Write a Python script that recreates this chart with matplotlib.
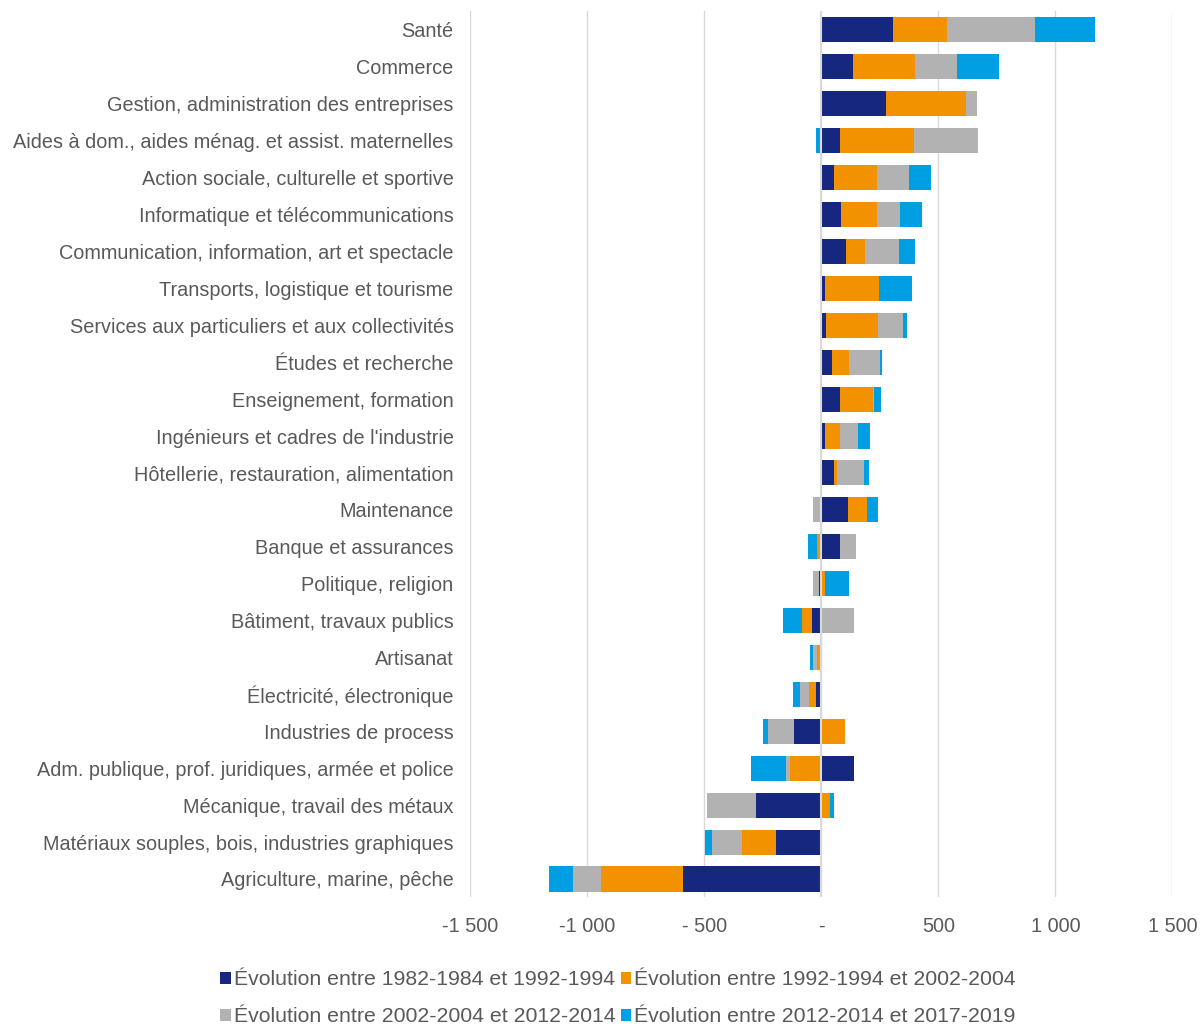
import numpy as np
import matplotlib
matplotlib.use('Agg')
import matplotlib.pyplot as plt
from matplotlib.ticker import FuncFormatter

plt.rcParams['font.family'] = ['Liberation Sans', 'DejaVu Sans']

# categories, top to bottom
categories = [
    "Santé",
    "Commerce",
    "Gestion, administration des entreprises",
    "Aides à dom., aides ménag. et assist. maternelles",
    "Action sociale, culturelle et sportive",
    "Informatique et télécommunications",
    "Communication, information, art et spectacle",
    "Transports, logistique et tourisme",
    "Services aux particuliers et aux collectivités",
    "Études et recherche",
    "Enseignement, formation",
    "Ingénieurs et cadres de l'industrie",
    "Hôtellerie, restauration, alimentation",
    "Maintenance",
    "Banque et assurances",
    "Politique, religion",
    "Bâtiment, travaux publics",
    "Artisanat",
    "Électricité, électronique",
    "Industries de process",
    "Adm. publique, prof. juridiques, armée et police",
    "Mécanique, travail des métaux",
    "Matériaux souples, bois, industries graphiques",
    "Agriculture, marine, pêche",
]

evol_82_92 = [307, 135, 276, 80, 53, 85, 104, 16, 20, 47, 78, 14, 54, 115, 81, -12, -40, 0, -25, -115, 141, -279, -196, -592]
evol_92_02 = [230, 264, 343, 316, 183, 152, 82, 232, 223, 71, 141, 67, 11, 80, -18, 14, -44, -20, -30, 101, -136, 38, -144, -351]
evol_02_12 = [375, 181, 48, 272, 139, 101, 145, 0, 105, 131, 4, 75, 117, -38, 67, -22, 139, -17, -38, -112, -14, -210, -127, -118]
evol_12_17 = [259, 181, -6, -23, 94, 92, 68, 141, 16, 10, 33, 50, 21, 47, -38, 105, -78, -13, -28, -21, -152, 16, -30, -105]

series_labels = [
    "Évolution entre 1982-1984 et 1992-1994",
    "Évolution entre 1992-1994 et 2002-2004",
    "Évolution entre 2002-2004 et 2012-2014",
    "Évolution entre 2012-2014 et 2017-2019",
]
colors = ["#15277F", "#F39200", "#B2B2B2", "#009FE3"]

fig = plt.figure(figsize=(12, 10.26), dpi=100)
ax = fig.add_axes([0.392, 0.1253, 0.585, 0.8635])

y = np.arange(len(categories))
pos_base = np.zeros(len(categories))
neg_base = np.zeros(len(categories))
handles = []
for vals, lab, col in zip([evol_82_92, evol_92_02, evol_02_12, evol_12_17], series_labels, colors):
    v = np.array(vals, dtype=float)
    left = np.where(v >= 0, pos_base, neg_base)
    b = ax.barh(y, v, left=left, height=0.68, color=col, label=lab, zorder=3)
    handles.append(b)
    pos_base = pos_base + np.where(v > 0, v, 0)
    neg_base = neg_base + np.where(v < 0, v, 0)

ax.set_xlim(-1500, 1500)
ax.set_ylim(len(categories) - 0.5, -0.5)
ax.set_yticks(y)
ax.set_yticklabels(categories)
ax.set_xticks([-1500, -1000, -500, 0, 500, 1000, 1500])


def fr_fmt(x, pos):
    if x == 0:
        return "-"
    s = "{:,.0f}".format(abs(x)).replace(",", " ")
    if x < 0:
        return ("- " + s) if abs(x) < 1000 else ("-" + s)
    return s


ax.xaxis.set_major_formatter(FuncFormatter(fr_fmt))
ax.tick_params(axis='both', length=0, labelsize=14.3, labelcolor="#595959")
ax.tick_params(axis='y', pad=12)
ax.tick_params(axis='x', pad=14)
ax.grid(axis='x', color="#D9D9D9", linewidth=1, zorder=0)
ax.axvline(0, color="#D9D9D9", linewidth=1.5, zorder=4)
for s in ax.spines.values():
    s.set_visible(False)

# legend: row 1 navy/orange, row 2 gray/blue
order = [0, 2, 1, 3]
fig.legend([handles[i] for i in order], [series_labels[i] for i in order],
           loc='center', bbox_to_anchor=(0.515, 0.027), ncol=2, frameon=False,
           fontsize=15.3, labelcolor="#595959", handlelength=0.5, handleheight=0.5,
           handletextpad=0.15, columnspacing=0.25, labelspacing=0.85)

fig.savefig("out.png", dpi=100)
